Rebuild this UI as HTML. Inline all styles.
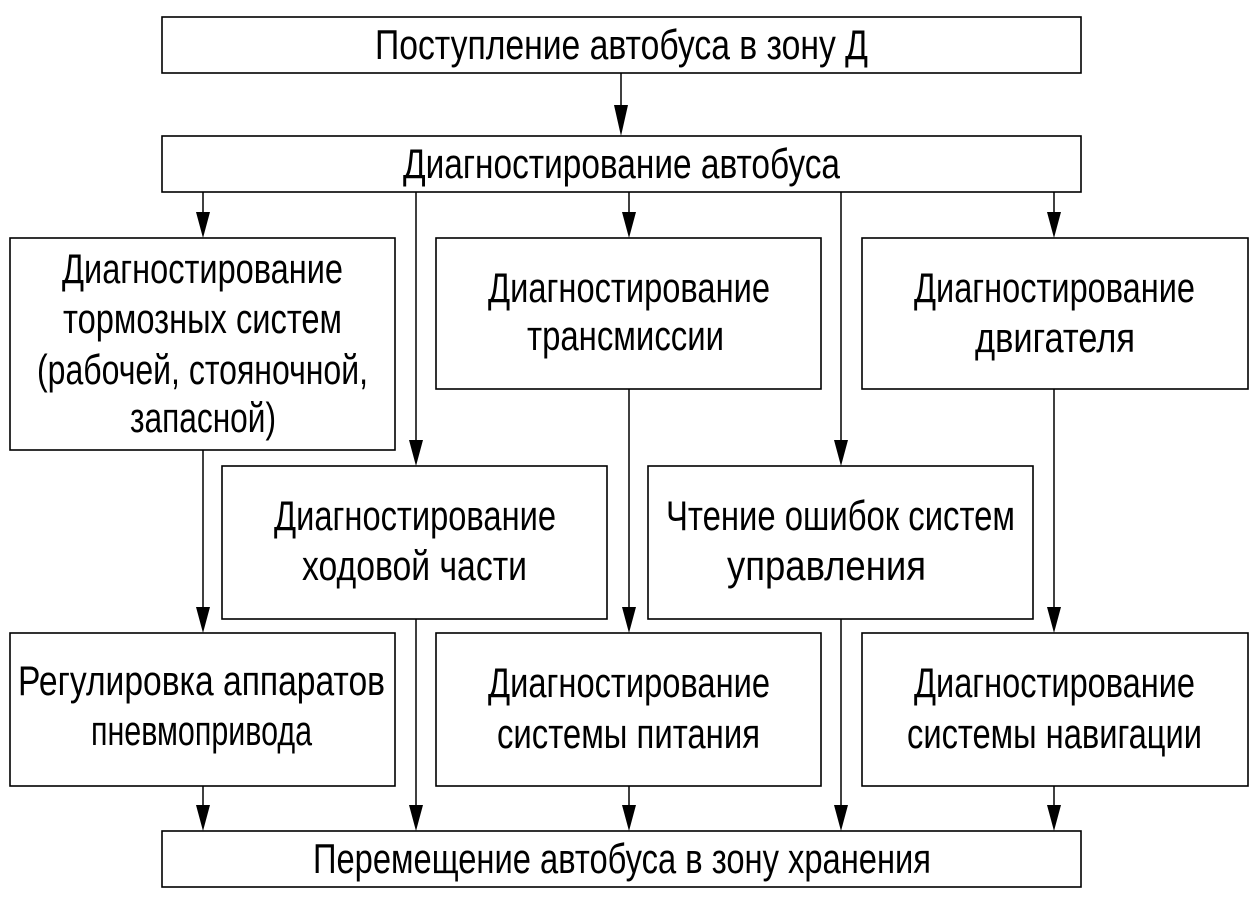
<!DOCTYPE html>
<html><head><meta charset="utf-8"><style>html,body{margin:0;padding:0;background:#fff}svg{display:block}</style></head>
<body>
<svg width="1259" height="903" viewBox="0 0 1259 903" xmlns="http://www.w3.org/2000/svg">
<g fill="none" stroke="#000" stroke-width="1.6">
<rect x="162" y="17" width="919" height="56"/>
<rect x="162" y="136" width="919" height="56"/>
<rect x="10" y="238" width="385" height="212"/>
<rect x="436" y="238" width="385" height="151"/>
<rect x="862" y="238" width="386" height="151"/>
<rect x="222" y="466" width="385" height="153"/>
<rect x="648" y="466" width="385" height="153"/>
<rect x="10" y="633" width="385" height="153"/>
<rect x="436" y="633" width="385" height="153"/>
<rect x="862" y="633" width="386" height="153"/>
<rect x="162" y="831" width="919" height="56"/>
</g>
<g stroke="#000" stroke-width="1.5">
<line x1="621" y1="73" x2="621" y2="105"/>
<line x1="203" y1="192" x2="203" y2="212"/><line x1="629" y1="192" x2="629" y2="212"/><line x1="1054" y1="192" x2="1054" y2="212"/>
<line x1="416" y1="192" x2="416" y2="440"/><line x1="841" y1="192" x2="841" y2="440"/>
<line x1="203" y1="450" x2="203" y2="607"/><line x1="629" y1="389" x2="629" y2="607"/><line x1="1054" y1="389" x2="1054" y2="607"/>
<line x1="203" y1="786" x2="203" y2="805"/><line x1="629" y1="786" x2="629" y2="805"/><line x1="1054" y1="786" x2="1054" y2="805"/>
<line x1="416" y1="619" x2="416" y2="805"/><line x1="841" y1="619" x2="841" y2="805"/>
</g>
<g fill="#000">
<path d="M614,105 L628,105 L621,136Z"/>
<path d="M196,212 L210,212 L203,238Z"/><path d="M622,212 L636,212 L629,238Z"/><path d="M1047,212 L1061,212 L1054,238Z"/>
<path d="M409,440 L423,440 L416,466Z"/><path d="M834,440 L848,440 L841,466Z"/>
<path d="M196,607 L210,607 L203,633Z"/><path d="M622,607 L636,607 L629,633Z"/><path d="M1047,607 L1061,607 L1054,633Z"/>
<path d="M196,805 L210,805 L203,831Z"/><path d="M622,805 L636,805 L629,831Z"/><path d="M1047,805 L1061,805 L1054,831Z"/>
<path d="M409,805 L423,805 L416,831Z"/><path d="M834,805 L848,805 L841,831Z"/>
</g>
<g font-family="'Liberation Sans', 'DejaVu Sans', sans-serif" font-size="42" fill="#000">
<text x="375" y="59" textLength="493" lengthAdjust="spacingAndGlyphs">Поступление автобуса в зону Д</text>
<text x="403" y="178" textLength="437" lengthAdjust="spacingAndGlyphs">Диагностирование автобуса</text>
<text x="62" y="283" textLength="281" lengthAdjust="spacingAndGlyphs">Диагностирование</text>
<text x="63" y="333" textLength="279" lengthAdjust="spacingAndGlyphs">тормозных систем</text>
<text x="37" y="384" textLength="331" lengthAdjust="spacingAndGlyphs">(рабочей, стояночной,</text>
<text x="130" y="432" textLength="146" lengthAdjust="spacingAndGlyphs">запасной)</text>
<text x="488" y="302" textLength="282" lengthAdjust="spacingAndGlyphs">Диагностирование</text>
<text x="527" y="350" textLength="197" lengthAdjust="spacingAndGlyphs">трансмиссии</text>
<text x="914" y="302" textLength="281" lengthAdjust="spacingAndGlyphs">Диагностирование</text>
<text x="975" y="352" textLength="160" lengthAdjust="spacingAndGlyphs">двигателя</text>
<text x="274" y="530" textLength="282" lengthAdjust="spacingAndGlyphs">Диагностирование</text>
<text x="302" y="580" textLength="225" lengthAdjust="spacingAndGlyphs">ходовой части</text>
<text x="666" y="530" textLength="349" lengthAdjust="spacingAndGlyphs">Чтение ошибок систем</text>
<text x="727" y="580" textLength="199" lengthAdjust="spacingAndGlyphs">управления</text>
<text x="18" y="695" textLength="367" lengthAdjust="spacingAndGlyphs">Регулировка аппаратов</text>
<text x="91" y="745" textLength="221" lengthAdjust="spacingAndGlyphs">пневмопривода</text>
<text x="488" y="697" textLength="282" lengthAdjust="spacingAndGlyphs">Диагностирование</text>
<text x="497" y="748" textLength="263" lengthAdjust="spacingAndGlyphs">системы питания</text>
<text x="914" y="697" textLength="281" lengthAdjust="spacingAndGlyphs">Диагностирование</text>
<text x="907" y="748" textLength="295" lengthAdjust="spacingAndGlyphs">системы навигации</text>
<text x="313" y="873" textLength="618" lengthAdjust="spacingAndGlyphs">Перемещение автобуса в зону хранения</text>
</g>
</svg>
</body></html>
